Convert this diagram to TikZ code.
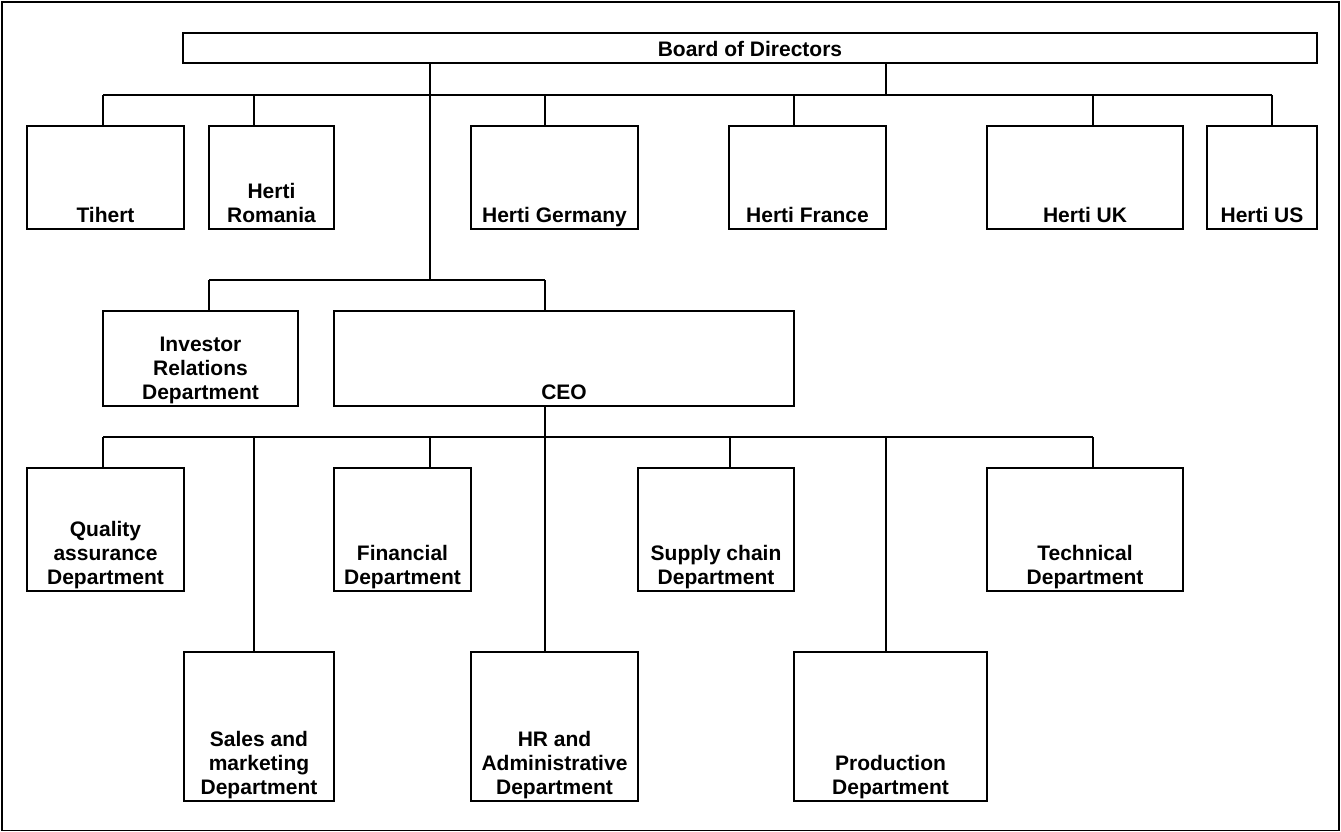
\documentclass[tikz,border=0pt]{standalone}
\usepackage{fontspec}
\setmainfont{Liberation Sans}
\begin{document}
\begin{tikzpicture}[x=1pt,y=-1pt,
  line width=1.6pt,
  box/.style={draw, inner sep=0pt, outer sep=0pt, anchor=north west},
  lbl/.style={anchor=south, inner sep=0pt, yshift=-1.7pt, align=center,
              font=\fontsize{21}{24.3}\selectfont\bfseries},
  conn/.style={draw, line width=1.6pt}]
\useasboundingbox (0,0) rectangle (1341,832);
\draw (2,2) rectangle (1339,830.5);
% boxes
\newcommand{\orgbox}[6]{%
  \node[box, minimum width=#4-#2, minimum height=#5-#3] (#1) at (#2,#3) {};
  \node[lbl] (#1-t) at (#1.south) {#6\strut};}
\orgbox{board}{183}{33}{1317}{63}{Board of Directors}
\orgbox{tihert}{27}{126}{184}{229}{Tihert}
\orgbox{romania}{209}{126}{334}{229}{Herti\\Romania}
\orgbox{germany}{471}{126}{638}{229}{Herti Germany}
\orgbox{france}{729}{126}{886}{229}{Herti France}
\orgbox{uk}{987}{126}{1183}{229}{Herti UK}
\orgbox{us}{1207}{126}{1317}{229}{Herti US}
\orgbox{investor}{103}{311}{298}{406}{Investor\\Relations\\Department}
\orgbox{ceo}{334}{311}{794}{406}{CEO}
\orgbox{quality}{27}{468}{184}{591}{Quality\\assurance\\Department}
\orgbox{financial}{334}{468}{471}{591}{Financial\\Department}
\orgbox{supply}{638}{468}{794}{591}{Supply chain\\Department}
\orgbox{technical}{987}{468}{1183}{591}{Technical\\Department}
\orgbox{sales}{184}{652}{334}{801}{Sales and\\marketing\\Department}
\orgbox{hr}{471}{652}{638}{801}{HR and\\Administrative\\Department}
\orgbox{production}{794}{652}{987}{801}{Production\\Department}
% bus junctions
\coordinate (b1a) at (103,95);  \coordinate (b1b) at (254,95);
\coordinate (b1c) at (545,95);  \coordinate (b1d) at (794,95);
\coordinate (b1e) at (1093,95); \coordinate (b1f) at (1272,95);
\coordinate (b1g) at (886,95);
\coordinate (b2a) at (209,280); \coordinate (b2b) at (545,280);
\coordinate (b2c) at (430,280);
\coordinate (b3a) at (103,437); \coordinate (b3b) at (254,437);
\coordinate (b3c) at (430,437); \coordinate (b3d) at (545,437);
\coordinate (b3e) at (730,437); \coordinate (b3f) at (886,437);
\coordinate (b3g) at (1093,437);
% level 1
\draw (b1a) -- (b1f);
\draw (board.south -| b1g) -- (b1g);
\draw (board.south -| b2c) -- (b2c);
\foreach \c/\n in {b1a/tihert, b1b/romania, b1c/germany, b1d/france, b1e/uk, b1f/us}
  \draw (\c) -- (\c |- \n.north);
% level 2
\draw (b2a) -- (b2b);
\draw (b2a) -- (b2a |- investor.north);
\draw (b2b) -- (b2b |- ceo.north);
% level 3
\draw (ceo.south -| b3d) -- (b3d);
\draw (b3a) -- (b3g);
\foreach \c/\n in {b3a/quality, b3b/sales, b3c/financial, b3d/hr, b3e/supply, b3f/production, b3g/technical}
  \draw (\c) -- (\c |- \n.north);
\end{tikzpicture}
\end{document}
